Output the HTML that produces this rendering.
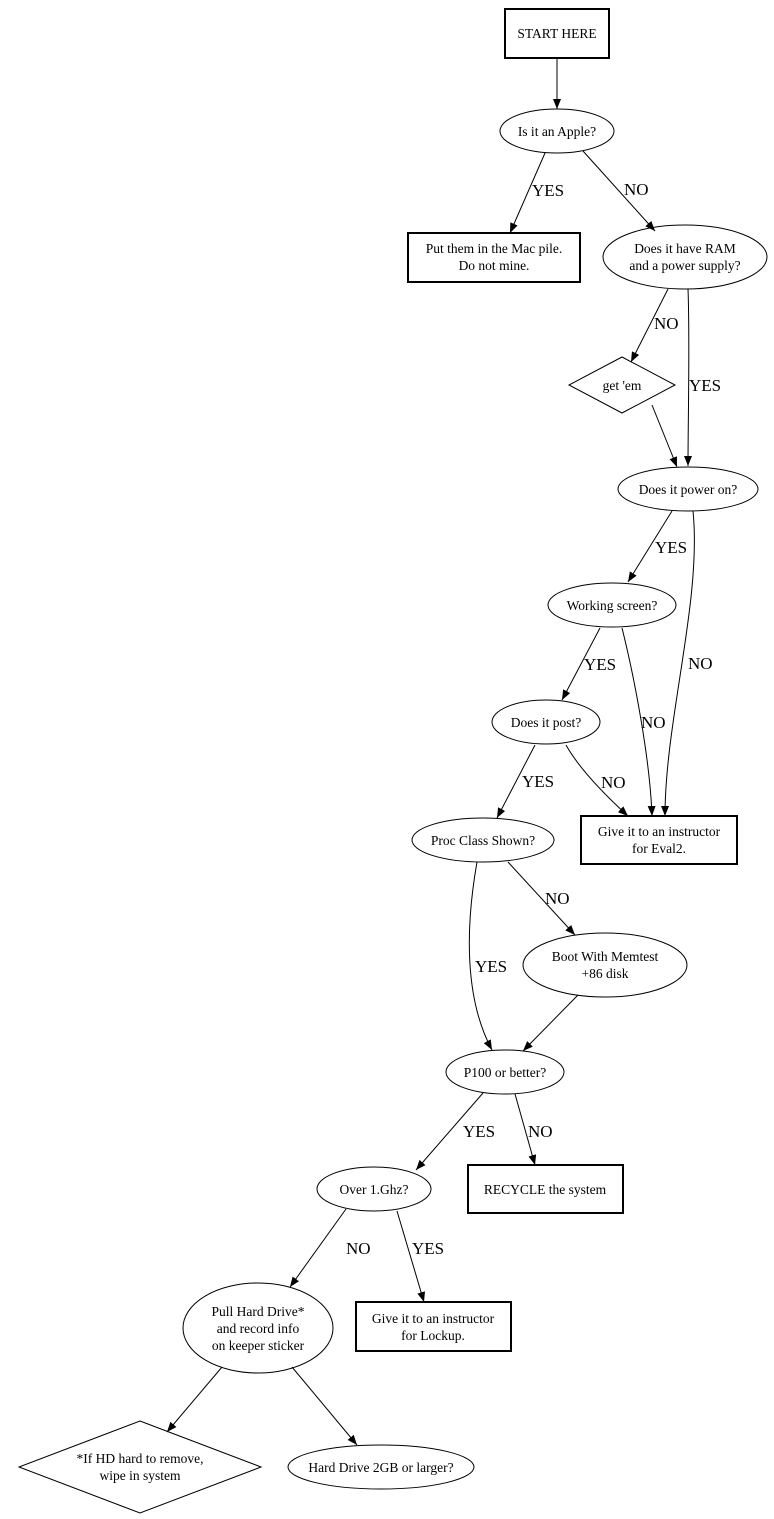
<!DOCTYPE html>
<html><head><meta charset="utf-8"><style>
html,body{margin:0;padding:0;background:#fff;}
svg{display:block;}
text{font-family:"Liberation Serif",serif;fill:#000;}
.n{font-size:13.5px;}
.l{font-size:17px;}
</style></head><body>
<svg width="774" height="1519" viewBox="0 0 774 1519" xmlns="http://www.w3.org/2000/svg">
<defs>
<marker id="a" viewBox="0 0 10 8" refX="10" refY="4" markerWidth="10" markerHeight="8" markerUnits="userSpaceOnUse" orient="auto">
<path d="M0,0 L10,4 L0,8 z" fill="#000"/></marker>
</defs>
<g fill="none" stroke="#000" stroke-width="1">
<!-- nodes -->
<rect x="505" y="9" width="104" height="49" stroke-width="2"/>
<ellipse cx="557" cy="131" rx="57" ry="22"/>
<rect x="408" y="233" width="172" height="49" stroke-width="2"/>
<ellipse cx="685" cy="257" rx="82" ry="32"/>
<polygon points="622,357 675,385 622,413 569,385"/>
<ellipse cx="688" cy="489" rx="70" ry="22"/>
<ellipse cx="612" cy="605" rx="64" ry="22"/>
<ellipse cx="546" cy="722" rx="54" ry="22"/>
<rect x="581" y="816" width="156" height="48" stroke-width="2"/>
<ellipse cx="483" cy="840" rx="71" ry="22"/>
<ellipse cx="605" cy="965" rx="82" ry="32"/>
<ellipse cx="505" cy="1072" rx="59" ry="22"/>
<rect x="468" y="1165" width="155" height="48" stroke-width="2"/>
<ellipse cx="374" cy="1189" rx="57" ry="22"/>
<ellipse cx="258" cy="1328" rx="75" ry="45"/>
<rect x="356" y="1302" width="155" height="49" stroke-width="2"/>
<polygon points="140,1421 261,1467 140,1513 19,1467"/>
<ellipse cx="381" cy="1467" rx="93" ry="22"/>
<!-- edges -->
<g marker-end="url(#a)">
<path d="M557,58 L557,109"/>
<path d="M545,153 L510,233"/>
<path d="M583,151 L655,231"/>
<path d="M668,289 L631,362"/>
<path d="M688,289 C690,340 688,420 688,466"/>
<path d="M652,405 L677,467"/>
<path d="M672,511 L628,582"/>
<path d="M693,511 C702,600 665,720 665,816"/>
<path d="M600,628 L562,700"/>
<path d="M622,628 C635,680 650,760 652,816"/>
<path d="M535,745 L497,818"/>
<path d="M566,745 C580,770 605,795 628,816"/>
<path d="M508,862 L575,935"/>
<path d="M477,862 C465,930 465,1000 492,1050"/>
<path d="M578,995 L523,1051"/>
<path d="M483,1093 L416,1170"/>
<path d="M515,1094 L535,1165"/>
<path d="M346,1209 L290,1287"/>
<path d="M397,1211 L424,1302"/>
<path d="M222,1367 L167,1432"/>
<path d="M292,1367 L357,1445"/>
</g>
</g>
<g class="n" text-anchor="middle">
<text x="557" y="38">START HERE</text>
<text x="557" y="136">Is it an Apple?</text>
<text x="494" y="253">Put them in the Mac pile.</text>
<text x="494" y="270">Do not mine.</text>
<text x="685" y="253">Does it have RAM</text>
<text x="685" y="270">and a power supply?</text>
<text x="622" y="390">get 'em</text>
<text x="688" y="494">Does it power on?</text>
<text x="612" y="610">Working screen?</text>
<text x="546" y="727">Does it post?</text>
<text x="659" y="836">Give it to an instructor</text>
<text x="659" y="853">for Eval2.</text>
<text x="483" y="845">Proc Class Shown?</text>
<text x="605" y="961">Boot With Memtest</text>
<text x="605" y="978">+86 disk</text>
<text x="505" y="1077">P100 or better?</text>
<text x="545" y="1194">RECYCLE the system</text>
<text x="374" y="1194">Over 1.Ghz?</text>
<text x="258" y="1316">Pull Hard Drive*</text>
<text x="258" y="1333">and record info</text>
<text x="258" y="1350">on keeper sticker</text>
<text x="433" y="1323">Give it to an instructor</text>
<text x="433" y="1340">for Lockup.</text>
<text x="140" y="1463">*If HD hard to remove,</text>
<text x="140" y="1480">wipe in system</text>
<text x="381" y="1472">Hard Drive 2GB or larger?</text>
</g>
<g class="l">
<text x="532" y="196">YES</text>
<text x="624" y="195">NO</text>
<text x="654" y="329">NO</text>
<text x="689" y="391">YES</text>
<text x="655" y="553">YES</text>
<text x="688" y="669">NO</text>
<text x="584" y="670">YES</text>
<text x="641" y="728">NO</text>
<text x="522" y="787">YES</text>
<text x="601" y="788">NO</text>
<text x="545" y="904">NO</text>
<text x="475" y="972">YES</text>
<text x="463" y="1137">YES</text>
<text x="528" y="1137">NO</text>
<text x="346" y="1254">NO</text>
<text x="412" y="1254">YES</text>
</g>
</svg>
</body></html>
